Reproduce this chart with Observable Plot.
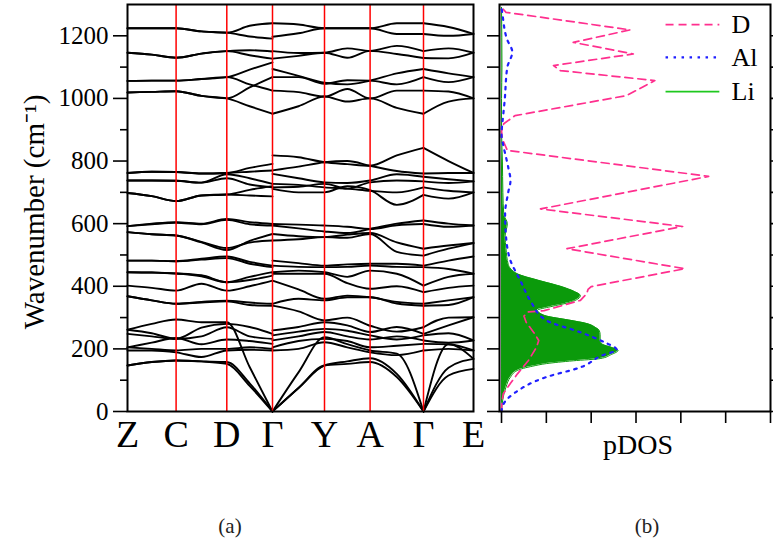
<!DOCTYPE html>
<html><head><meta charset="utf-8">
<script src="https://cdn.jsdelivr.net/npm/d3@7"></script>
<script src="https://cdn.jsdelivr.net/npm/@observablehq/plot@0.6"></script>
<style>
body{margin:0;background:#fff;}
#wrap{position:relative;width:773px;height:553px;background:#fff;font-family:"Liberation Serif","Times New Roman",serif;overflow:hidden}
#left{position:absolute;left:0;top:0}
#right{position:absolute;left:480px;top:0}
svg text{font-family:"Liberation Serif","Times New Roman",serif !important;}
.cap{position:absolute;font-family:"Liberation Serif","Times New Roman",serif;font-size:21px;top:514px;transform:translateX(-50%);color:#222}
</style></head><body>
<div id="wrap"><div id="left"></div><div id="right"></div>
<div class="cap" style="left:230px">(a)</div><div class="cap" style="left:647px">(b)</div></div>
<script>
// ---- k-path ----
const kLabels = ["Z","C","D","Γ","Y","A","Γ","E"];
const kPos = [0, 48.6, 99.3, 145, 197, 242.6, 296, 346];

// ---- phonon bands, values at high-symmetry points and segment midpoints (cm^-1) ----
// piece Z-C-D-Γ : [Z, mid, C, mid, D, mid, Γ]
const bandsZtoG = [
  [1224,1224,1224,1214,1210,1232,1240],
  [1224,1224,1224,1214,1210,1198,1191],
  [1146,1140,1130,1143,1151,1154,1150],
  [1146,1140,1130,1143,1151,1138,1127],
  [1056,1057,1057,1062,1068,1092,1115],
  [1056,1057,1057,1062,1068,1045,1025],
  [1019,1021,1023,1008,1000,1035,1068],
  [1019,1021,1023,1008,1000,975,951],
  [762,766,765,760,762,778,791],
  [762,766,765,760,762,766,770],
  [738,738,737,731,758,745,727],
  [738,738,737,731,745,725,716],
  [698,688,672,690,693,708,720],
  [698,688,672,690,693,690,687],
  [592,600,605,600,615,605,599],
  [592,598,603,598,612,598,594],
  [573,566,562,540,516,545,567],
  [573,566,562,542,522,540,546],
  [482,482,480,488,495,478,466],
  [482,482,480,485,490,472,461],
  [445,444,441,435,413,430,445],
  [445,444,441,432,413,420,434],
  [402,395,386,408,386,400,418],
  [368,355,344,350,354,348,344],
  [368,355,344,348,352,340,338],
  [261,280,294,285,285,142,0],
  [261,250,232,268,280,270,248],
  [248,240,232,240,269,240,232],
  [205,220,235,215,230,225,216],
  [205,200,195,200,200,205,200],
  [195,195,189,174,195,197,195],
  [147,158,163,160,158,90,0],
  [147,158,163,160,152,82,0]
];
// piece Γ-Y-A-Γ : [Γ, mid, Y, mid, A, mid, Γ]
const bandsGtoG = [
  [1240,1236,1224,1224,1224,1240,1240],
  [1197,1208,1224,1224,1224,1206,1206],
  [1151,1145,1146,1160,1152,1168,1151],
  [1127,1136,1146,1130,1152,1142,1129],
  [1094,1072,1050,1045,1057,1080,1094],
  [1068,1068,1047,1058,1057,1045,1068],
  [1025,1020,1006,1030,1000,1025,1025],
  [951,975,1006,990,1000,970,951],
  [818,812,796,790,785,818,842],
  [770,782,796,800,785,768,760],
  [759,745,732,730,738,758,750],
  [727,724,716,712,705,700,716],
  [716,718,727,712,732,738,735],
  [711,700,700,720,707,660,692],
  [599,597,594,590,583,595,599],
  [594,585,575,570,583,600,610],
  [567,560,557,565,570,540,520],
  [546,550,557,555,567,510,498],
  [482,474,466,470,472,472,466],
  [466,462,461,462,466,462,461],
  [445,450,445,430,450,440,402],
  [440,440,440,410,392,400,381],
  [418,390,360,370,365,350,344],
  [344,360,355,365,365,345,338],
  [338,320,291,300,274,255,269],
  [259,270,285,275,254,270,248],
  [243,255,264,258,243,230,243],
  [227,240,254,240,230,240,227],
  [205,225,232,225,205,210,216],
  [195,200,221,205,189,180,195],
  [0,125,237,215,195,185,0],
  [0,75,147,160,170,120,0],
  [0,75,147,152,158,110,0]
];
// piece Γ-E : [Γ, mid, E]
const bandsGtoE = [
  [1240,1228,1206],[1206,1200,1206],[1151,1160,1146],[1129,1128,1146],
  [1094,1080,1068],[1068,1052,1068],[1025,1022,1000],[951,990,1000],
  [842,800,762],[760,762,762],[750,742,735],[735,730,735],[716,705,700],[692,680,700],
  [599,590,594],[610,600,594],[520,530,538],[498,520,538],
  [466,482,495],[461,455,440],[402,430,440],[381,395,402],[344,355,365],[338,340,365],
  [269,300,301],[248,275,301],[243,250,227],[227,220,227],[216,215,195],[195,200,195],
  [0,215,168],[0,140,168],[0,115,136]
];

// ---- pDOS (wavenumber, density) ----
const dosD_w  = [0,30,57,90,121,163,205,227,250,285,305,318,322,355,376,390,399,456,520,591,647,751,834,870,895,919,945,1009,1057,1089,1105,1142,1160,1179,1219,1275,1291];
const dosD_v  = [0,0.01,0.04,0.2,0.36,0.6,0.78,0.83,0.73,0.55,0.5,0.6,0.95,1.76,1.9,1.93,2.0,4.09,1.46,4.04,0.87,4.62,0.13,0.02,0,0.05,0.3,2.79,3.42,1.31,1.16,2.94,2.3,1.6,2.87,0.1,0];
const dosAl_w = [0,20,57,110,141,179,197,221,253,291,355,418,482,560,632,700,738,780,850,880,950,993,1100,1148,1190,1270,1291];
const dosAl_v = [0,0.03,0.27,1.0,1.76,2.24,2.57,2.3,1.76,1.0,0.64,0.42,0.2,0.1,0.08,0.15,0.2,0.15,0.04,0,0.04,0.07,0.13,0.24,0.12,0.02,0];
const dosLi_w = [0,40,78,110,131,145,153,162,169,182,195,205,215,227,245,259,268,281,292,305,313,323,335,349,370,385,397,420,440,470,520,560,600,630,700,800,900,1000,1100,1291];
const dosLi_v = [0,0.03,0.1,0.2,0.35,0.7,1.0,1.6,2.2,2.45,2.6,2.45,2.25,2.2,2.2,2.18,2.1,1.9,1.5,1.0,0.87,0.8,1.1,1.53,1.76,1.6,1.38,0.8,0.35,0.15,0.1,0.08,0.13,0.05,0.03,0.02,0,0,0.01,0];

const yMajor = [0,200,400,600,800,1000,1200];
const yMinor = [100,300,500,700,900,1100];
const yAll = d3.range(0, 1201, 100);
const pdosTicks = [0,1,2,3,4,5,6];
const legendNames = ["D","Al","Li"];

// ---- build band rows ----
function sampleXs(from, to){ const xs=[]; for(let i=from;i<to;i++){ xs.push(kPos[i], (kPos[i]+kPos[i+1])/2);} xs.push(kPos[to]); return xs; }
const bandRows = [];
[[bandsZtoG, sampleXs(0,3), "a"], [bandsGtoG, sampleXs(3,6), "b"], [bandsGtoE, sampleXs(6,7), "c"]].forEach(([bands, xs, tag]) => {
  bands.forEach((b, i) => b.forEach((w, j) => bandRows.push({k: xs[j], w, id: tag + i})));
});
const rows = (ws, vs) => ws.map((w,i) => ({w, u: vs[i]}));
const dRows = rows(dosD_w, dosD_v), alRows = rows(dosAl_w, dosAl_v), liRows = rows(dosLi_w, dosLi_v);

const FONT = "'Liberation Serif', 'Times New Roman', serif";
const baseStyle = {fontFamily: FONT, fontSize: "25px", background: "transparent", overflow: "visible", color: "black"};

const leftPlot = Plot.plot({
  width: 480, height: 470,
  marginLeft: 127, marginRight: 7, marginTop: 4, marginBottom: 59,
  x: {domain: [0, 346], axis: null},
  y: {domain: [0, 1300]},
  style: baseStyle,
  marks: [
    Plot.line(bandRows, {x: "k", y: "w", z: "id", stroke: "black", strokeWidth: 1.9, curve: "monotone-x"}),
    Plot.ruleX(kPos.slice(1, -1), {stroke: "#ff0000", strokeWidth: 1.5}),
    Plot.frame({stroke: "black", strokeWidth: 2}),
    Plot.axisY(yMajor, {tickSize: 14, tickPadding: 5, fontSize: 25, fontFamily: FONT, tickFormat: d => String(d), label: null, strokeWidth: 1.6}),
    Plot.axisY(yMinor, {tickSize: 7, tickFormat: () => "", label: null, strokeWidth: 1.6}),
    Plot.text(kLabels, {x: (d, i) => kPos[i], y: () => 0, dy: 23, fontSize: 38, fontFamily: FONT, lineAnchor: "middle"}),
    Plot.text(["Wavenumber (cm⁻¹)"], {frameAnchor: "left", textAnchor: "middle", lineAnchor: "middle", rotate: -90, dx: -93, dy: 4, fontSize: 29, fontFamily: FONT})
  ]
});
document.getElementById("left").appendChild(leftPlot);

const rightPlot = Plot.plot({
  width: 293, height: 470,
  marginLeft: 19, marginRight: 3, marginTop: 4, marginBottom: 59,
  x: {domain: [-0.045, 6]},
  y: {domain: [0, 1300]},
  style: baseStyle,
  marks: [
    Plot.areaX(liRows, {x: "u", y: "w", fill: "#0b9a0b", curve: "monotone-y"}),
    Plot.line(liRows, {x: "u", y: "w", stroke: "#0b9a0b", strokeWidth: 1, curve: "monotone-y"}),
    Plot.line(dRows, {x: "u", y: "w", stroke: "#ff2f8e", strokeWidth: 1.7, strokeDasharray: "8,5", curve: "linear"}),
    Plot.line(alRows, {x: "u", y: "w", stroke: "#1f1fff", strokeWidth: 2.2, strokeDasharray: "2.5,5.5", curve: "monotone-y"}),
    Plot.frame({stroke: "black", strokeWidth: 2}),
    Plot.axisY(yAll, {anchor: "left", tickSize: 12, tickFormat: () => "", label: null, strokeWidth: 1.6}),
    Plot.axisY(yAll, {anchor: "right", tickSize: 3, tickFormat: () => "", label: null, strokeWidth: 1.6}),
    Plot.axisX(pdosTicks, {anchor: "bottom", tickSize: 12, tickFormat: () => "", label: null, strokeWidth: 1.6}),
    Plot.ruleY([legendNames[0]], {y: () => 1236, x1: 3.67, x2: 4.87, stroke: "#ff2f8e", strokeWidth: 1.7, strokeDasharray: "8,5"}),
    Plot.ruleY([legendNames[1]], {y: () => 1131, x1: 3.67, x2: 4.87, stroke: "#1f1fff", strokeWidth: 2.2, strokeDasharray: "2.5,5.5"}),
    Plot.ruleY([legendNames[2]], {y: () => 1022, x1: 3.67, x2: 4.87, stroke: "#1ec81e", strokeWidth: 1.8}),
    Plot.text(legendNames, {x: () => 5.13, y: (d, i) => [1236, 1131, 1022][i], textAnchor: "start", fontSize: 26, fontFamily: FONT, lineAnchor: "middle"}),
    Plot.text(["pDOS"], {frameAnchor: "bottom", dx: 3, dy: 42, fontSize: 28, fontFamily: FONT})
  ]
});
document.getElementById("right").appendChild(rightPlot);
</script>
</body></html>
